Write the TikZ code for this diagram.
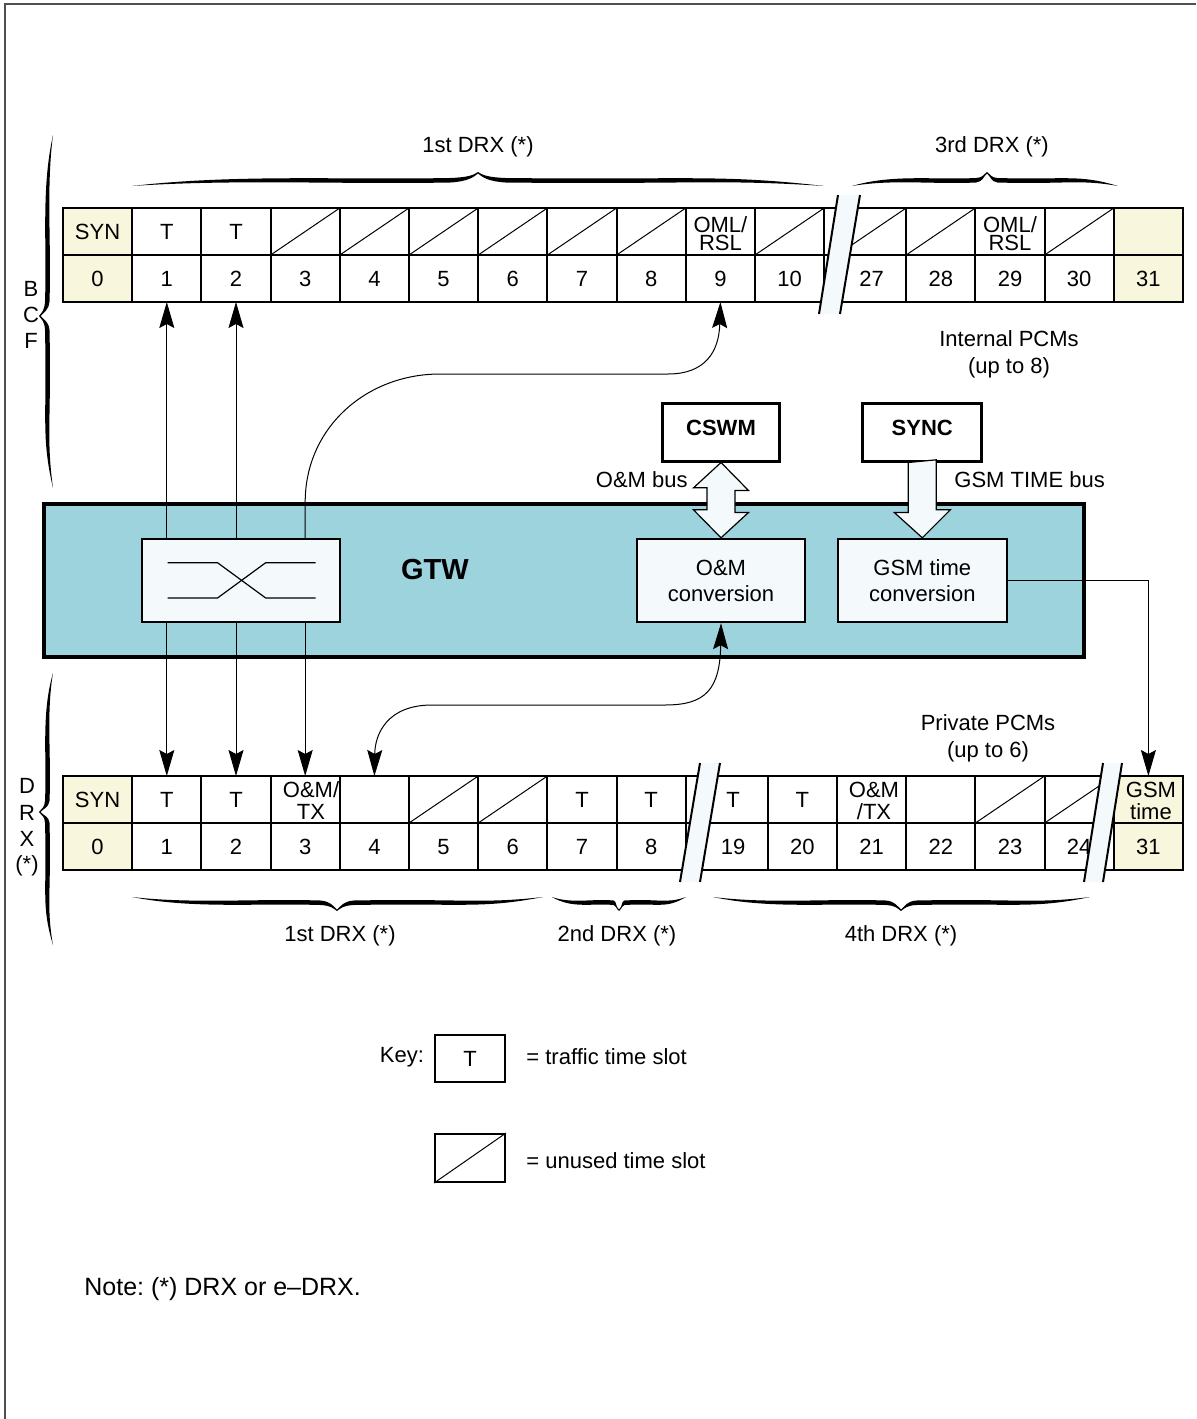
\documentclass[tikz,border=0pt]{standalone}
\usepackage{fontspec}
\setmainfont{Liberation Sans}
\usetikzlibrary{arrows.meta,calc}
\definecolor{slotyellow}{HTML}{F8F6DC}
\definecolor{gtwteal}{HTML}{9DD3DC}
\definecolor{paleblue}{HTML}{F4FAFC}
\definecolor{framegray}{HTML}{505050}
% horizontal brace: x1, xm (tip), x2, y0 (ends), d (+1 tip down, -1 tip up)
\newcommand{\hbrace}[5]{%
 \pgfmathsetmacro{\brWa}{#2-#1}\pgfmathsetmacro{\brWb}{#3-#2}%
 \fill (#1,#4)
  .. controls ({#1+0.3*\brWa},{#4+#5*12}) and ({#2-0.4*\brWa},{#4+#5*6}) .. ({#2-0.08*\brWa},{#4+#5*8})
  .. controls ({#2-0.03*\brWa},{#4+#5*8.6}) and ({#2-4},{#4+#5*11}) .. (#2,{#4+#5*14})
  .. controls ({#2+4},{#4+#5*11}) and ({#2+0.03*\brWb},{#4+#5*8.6}) .. ({#2+0.08*\brWb},{#4+#5*8})
  .. controls ({#3-0.4*\brWb},{#4+#5*6}) and ({#3-0.3*\brWb},{#4+#5*12}) .. (#3,#4)
  .. controls ({#3-0.3*\brWb},{#4+#5*7}) and ({#3-0.4*\brWb},{#4+#5*1.5}) .. ({#2+0.08*\brWb},{#4+#5*3.5})
  .. controls ({#2+0.03*\brWb},{#4+#5*4.5}) and ({#2+4},{#4+#5*9}) .. (#2,{#4+#5*12.5})
  .. controls ({#2-4},{#4+#5*9}) and ({#2-0.03*\brWa},{#4+#5*4.5}) .. ({#2-0.08*\brWa},{#4+#5*3.5})
  .. controls ({#2-0.4*\brWa},{#4+#5*1.5}) and ({#1+0.3*\brWa},{#4+#5*7}) .. (#1,#4) -- cycle;}
% vertical brace: y1, ym (tip), y2, x0 (ends), d (-1 tip left)
\newcommand{\vbrace}[5]{%
 \pgfmathsetmacro{\brWa}{#2-#1}\pgfmathsetmacro{\brWb}{#3-#2}%
 \fill ({#4},#1)
  .. controls ({#4+#5*12},{#1+0.3*\brWa}) and ({#4+#5*6},{#2-0.4*\brWa}) .. ({#4+#5*8},{#2-0.08*\brWa})
  .. controls ({#4+#5*8.6},{#2-0.03*\brWa}) and ({#4+#5*11},{#2-4}) .. ({#4+#5*14},#2)
  .. controls ({#4+#5*11},{#2+4}) and ({#4+#5*8.6},{#2+0.03*\brWb}) .. ({#4+#5*8},{#2+0.08*\brWb})
  .. controls ({#4+#5*6},{#3-0.4*\brWb}) and ({#4+#5*12},{#3-0.3*\brWb}) .. ({#4},#3)
  .. controls ({#4+#5*7},{#3-0.3*\brWb}) and ({#4+#5*1.5},{#3-0.4*\brWb}) .. ({#4+#5*3.5},{#2+0.08*\brWb})
  .. controls ({#4+#5*4.5},{#2+0.03*\brWb}) and ({#4+#5*9},{#2+4}) .. ({#4+#5*12.5},#2)
  .. controls ({#4+#5*9},{#2-4}) and ({#4+#5*4.5},{#2-0.03*\brWa}) .. ({#4+#5*3.5},{#2-0.08*\brWa})
  .. controls ({#4+#5*1.5},{#2-0.4*\brWa}) and ({#4+#5*7},{#1+0.3*\brWa}) .. ({#4},#1) -- cycle;}
\begin{document}
\frenchspacing
\begin{tikzpicture}[x=0.5pt,y=-0.5pt,
  font=\fontsize{11}{13}\selectfont,
  >={Stealth[length=13pt,width=7.5pt,inset=2pt]},
  cellbox/.style={draw,line width=1pt,minimum width=34.6pt,minimum height=23.5pt,inner sep=0pt,outer sep=0pt},
  capt/.style={text height=7.9pt,text depth=0pt},
  ylw/.style={fill=slotyellow},
  twolinea/.style={align=center,inner sep=0pt,font=\fontsize{11}{9}\selectfont},
  twolineb/.style={align=center,inner sep=0pt,font=\fontsize{11}{11}\selectfont},
  diag/.style={line width=0.5pt},
  conn/.style={line width=0.5pt},
  blk/.style={draw,line width=1.5pt,fill=white,minimum width=58.5pt,minimum height=29pt,inner sep=0pt,
     text height=7.9pt,text depth=4pt,font=\bfseries\fontsize{11}{13}\selectfont},
  cbox/.style={draw,line width=1.2pt,fill=paleblue,minimum width=84pt,minimum height=41.5pt,inner sep=0pt,align=center},
  fatarrow/.style={draw,line width=0.6pt,fill=paleblue,line join=miter},
  band/.style={fill=paleblue},
  bandedge/.style={line width=1pt},
  lbl/.style={inner sep=0pt}
]
\useasboundingbox (0,0) rectangle (1196,1419);
% frame
\draw[line width=1pt,framegray] (5,1419) -- (5,4) -- (1196,4);

% ---------- top table (BCF) ----------
\draw[line width=1pt] (63,208) rectangle (1183,302);
\draw[line width=1pt] (63,255) -- (1183,255);
\node[cellbox,ylw,capt] (tT0) at (97.6,231.5) {SYN};
\node[cellbox,capt] (tT1) at (166.8,231.5) {T};
\node[cellbox,capt] (tT2) at (236,231.5) {T};
\foreach \k in {3,4,5,6,7,8,10}{
  \node[cellbox] (tT\k) at ({97.6+69.2*\k},231.5) {};
  \draw[diag] (tT\k.south west) -- (tT\k.north east);
}
\node[cellbox] (tT9) at (720.4,231.5) {};
\node[twolinea] (tT9txt) at (720.4,234) {OML/\\RSL};
\foreach \k in {27,28,30}{
  \node[cellbox] (tT\k) at ({871.6+69.2*(\k-27)},231.5) {};
  \draw[diag] (tT\k.south west) -- (tT\k.north east);
}
\node[cellbox] (tT29) at (1010,231.5) {};
\node[twolinea] (tT29txt) at (1010,234) {OML/\\RSL};
\node[cellbox,ylw] (tT31) at (1148.4,231.5) {};
\node[cellbox,ylw,capt] (tB0) at (97.6,278.5) {0};
\foreach \k in {1,...,10}{
  \node[cellbox,capt] (tB\k) at ({97.6+69.2*\k},278.5) {\k};
}
\foreach \k in {27,28,29,30}{
  \node[cellbox,capt] (tB\k) at ({871.6+69.2*(\k-27)},278.5) {\k};
}
\node[cellbox,ylw,capt] (tB31) at (1148.4,278.5) {31};
% break band
\fill[band] (838,195) -- (860,195) -- (840,314) -- (819,314) -- cycle;
\draw[bandedge] (838,195) -- (819,314) (860,195) -- (840,314);

% ---------- bottom table (DRX) ----------
\draw[line width=1pt] (63,776) rectangle (1183,870);
\draw[line width=1pt] (63,823) -- (1183,823);
\node[cellbox,ylw,capt] (bT0) at (97.6,799.5) {SYN};
\node[cellbox,capt] (bT1) at (166.8,799.5) {T};
\node[cellbox,capt] (bT2) at (236,799.5) {T};
\node[cellbox] (bT3) at (305.2,799.5) {};
\node[twolineb] (bT3txt) at (311,801) {O\&M/\\TX};
\node[cellbox] (bT4) at (374.4,799.5) {};
\foreach \k in {5,6}{
  \node[cellbox] (bT\k) at ({97.6+69.2*\k},799.5) {};
  \draw[diag] (bT\k.south west) -- (bT\k.north east);
}
\node[cellbox,capt] (bT7) at (582,799.5) {T};
\node[cellbox,capt] (bT8) at (651.2,799.5) {T};
\node[cellbox,capt] (bT19) at (733.2,799.5) {T};
\node[cellbox,capt] (bT20) at (802.4,799.5) {T};
\node[cellbox] (bT21) at (871.6,799.5) {};
\node[twolineb] (bT21txt) at (874,801) {O\&M\\/TX};
\node[cellbox] (bT22) at (940.8,799.5) {};
\foreach \k in {23,24}{
  \node[cellbox] (bT\k) at ({733.2+69.2*(\k-19)},799.5) {};
  \draw[diag] (bT\k.south west) -- (bT\k.north east);
}
\node[cellbox,ylw] (bT31) at (1148.4,799.5) {};
\node[twolineb] (bT31txt) at (1151,801) {GSM\\time};
\node[cellbox,ylw,capt] (bB0) at (97.6,846.5) {0};
\foreach \k in {1,...,8}{
  \node[cellbox,capt] (bB\k) at ({97.6+69.2*\k},846.5) {\k};
}
\foreach \k in {19,...,24}{
  \node[cellbox,capt] (bB\k) at ({733.2+69.2*(\k-19)},846.5) {\k};
}
\node[cellbox,ylw,capt] (bB31) at (1148.4,846.5) {31};
% break bands
\fill[band] (700,763) -- (720,763) -- (700,882) -- (680,882) -- cycle;
\draw[bandedge] (700,763) -- (680,882) (720,763) -- (700,882);
\fill[band] (1103,763) -- (1122,763) -- (1103,882) -- (1084,882) -- cycle;
\draw[bandedge] (1103,763) -- (1084,882) (1122,763) -- (1103,882);

% ---------- braces and their labels ----------
\hbrace{132}{478}{824}{186}{-1}
\hbrace{852}{987}{1118}{186}{-1}
\hbrace{132}{337}{543}{897}{1}
\hbrace{552}{619}{686}{897}{1}
\hbrace{713}{901}{1090}{897}{1}
\vbrace{135}{316}{488}{53}{-1}
\vbrace{673}{812}{945}{53}{-1}
\node[lbl] (l1st) at (478,147) {1st DRX (*)};
\node[lbl] (l3rd) at (992,147) {3rd DRX (*)};
\node[lbl] (b1st) at (340,936) {1st DRX (*)};
\node[lbl] (b2nd) at (617,936) {2nd DRX (*)};
\node[lbl] (b4th) at (901,936) {4th DRX (*)};
\node[lbl] (lB) at (31,289) {B};
\node[lbl] (lC) at (31,315) {C};
\node[lbl] (lF) at (31,341) {F};
\node[lbl] (lD) at (27,786) {D};
\node[lbl] (lR) at (27,813) {R};
\node[lbl] (lX) at (27,839) {X};
\node[lbl] (lS) at (27,866) {(*)};

% ---------- GTW ----------
\node[draw,line width=1.6pt,fill=gtwteal,minimum width=520pt,minimum height=76.5pt,inner sep=0pt] (gtw) at (564,580.5) {};
\node[lbl,font=\bfseries\fontsize{14.5}{17}\selectfont] (gtwl) at (435,570) {GTW};
\node[draw,line width=1.2pt,fill=paleblue,minimum width=99pt,minimum height=41.5pt,inner sep=0pt] (xbox) at (241,580.5) {};
\draw[line width=0.6pt] (167.5,562.7) -- (217.5,562.7) -- (265.7,598) -- (315.7,598);
\draw[line width=0.6pt] (167.5,598) -- (217.5,598) -- (265.7,562.7) -- (315.7,562.7);
\node[cbox] (omc) at (721,580.5) {O\&M\\conversion};
\node[cbox,minimum width=84.5pt] (gtc) at (922.3,580.5) {GSM time\\conversion};
\node[blk] (cswm) at (721,432) {CSWM};
\node[blk,minimum width=59.5pt] (sync) at (922.3,432) {SYNC};

% fat arrows
\draw[fatarrow] (cswm.south) -- ++(27.5,28) -- ++(-13.5,0) -- ++(0,22) -- ++(13.5,0) -- (omc.north)
  -- ++(-27.5,-28) -- ++(13.5,0) -- ++(0,-22) -- ++(-13.5,0) -- cycle;
\draw[fatarrow] (sync.south) ++(-14,0) -- ++(0,50) -- ++(-14,0) -- (gtc.north) -- ++(28,-28) -- ++(-14,0) -- ++(0,-50) -- cycle;
\node[lbl,anchor=east] (ombus) at (688,480) {O\&M bus};
\node[lbl,anchor=west] (gsmbus) at (954,480) {GSM TIME bus};

% ---------- connectors ----------
\draw[conn,<-] (tB1.south) -- (xbox.north -| tB1.south);
\draw[conn,->] (xbox.south -| bT1.north) -- (bT1.north);
\draw[conn,<-] (tB2.south) -- (xbox.north -| tB2.south);
\draw[conn,->] (xbox.south -| bT2.north) -- (bT2.north);
\draw[conn,->] (xbox.south -| bT3.north) -- (bT3.north);
\draw[conn,->] (xbox.north -| bT3.north) -- (305.2,502) .. controls (305.2,428) and (366,374) .. (440,374)
  -- (668,374) .. controls (705,374) and (719,352) .. (tB9.south);
\draw[conn,<->] (bT4.north) .. controls (375,733) and (388,705) .. (432,705) -- (665,705)
  .. controls (705,705) and (720,690) .. (omc.south);
\draw[conn,->] (gtc.east) -- (gtc.east -| bT31.north) -- (bT31.north);

% ---------- side texts ----------
\node[lbl,align=center,font=\fontsize{11}{13.5}\selectfont] (intpcm) at (1009,354) {Internal PCMs\\(up to 8)};
\node[lbl,align=center,font=\fontsize{11}{13.5}\selectfont] (privpcm) at (988,738) {Private PCMs\\(up to 6)};

% ---------- key ----------
\node[lbl] (keyl) at (402,1057) {Key:};
\node[draw,line width=1pt,minimum width=35pt,minimum height=23.5pt,inner sep=0pt,capt] (keyT) at (470,1058.5) {T};
\node[lbl,anchor=west] (keyTt) at (526,1057) {= traffic time slot};
\node[draw,line width=1pt,minimum width=35pt,minimum height=24pt,inner sep=0pt] (keyU) at (470,1158) {};
\draw[diag] (keyU.south west) -- (keyU.north east);
\node[lbl,anchor=west] (keyUt) at (526,1161) {= unused time slot};
\node[lbl,anchor=west,font=\fontsize{12.5}{15}\selectfont] (note) at (84,1289) {Note: (*) DRX or e–DRX.};
\end{tikzpicture}
\end{document}
